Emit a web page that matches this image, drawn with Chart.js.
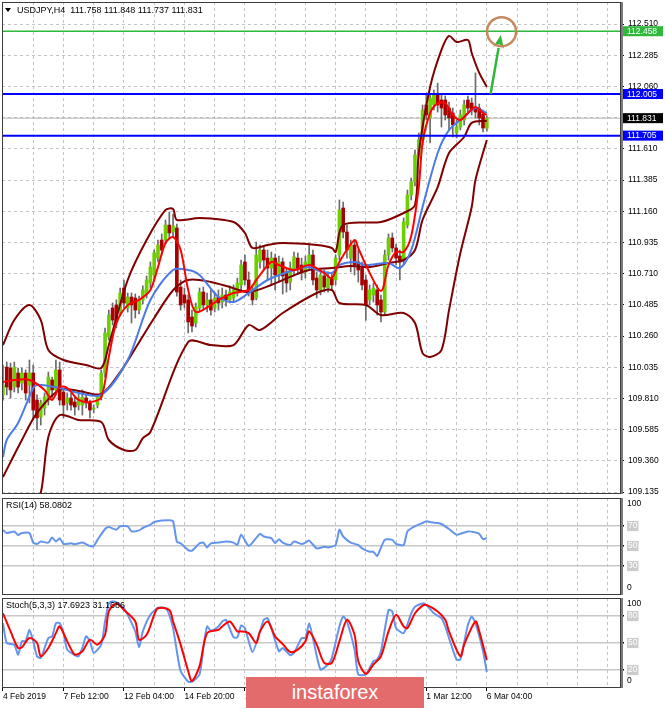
<!DOCTYPE html>
<html>
<head>
<meta charset="utf-8">
<script src="https://cdn.jsdelivr.net/npm/chart.js@4.4.1/dist/chart.umd.min.js"></script>
<style>
  html, body { margin: 0; padding: 0; background: #fff; }
  #wrap { position: relative; width: 665px; height: 708px; overflow: hidden; background: #fff; }
  canvas { position: absolute; left: 0; }
  #main { top: 0; }
  #rsi { top: 496px; }
  #stoch { top: 597px; }
  #wm { position: absolute; left: 246px; top: 677px; width: 178px; height: 31px; background: #e36b6b;
        color: #fff; font: 20px "Liberation Sans", Arial, sans-serif; text-align: center; line-height: 30px; }
</style>
</head>
<body>
<div id="wrap">
  <canvas id="main" width="665" height="496"></canvas>
  <canvas id="rsi" width="665" height="101"></canvas>
  <canvas id="stoch" width="665" height="111"></canvas>
  <div id="wm">instaforex</div>
</div>
<script>
// USDJPY H4, 4 Feb 2019 20:00 .. 6 Mar 2019 04:00, one entry per bar
const opens = [109.835,110.036,110.029,109.892,109.993,109.921,109.993,109.907,109.993,109.798,
  109.676,109.741,109.798,109.943,109.871,110.015,109.856,109.777,109.813,109.784,
  109.762,109.762,109.813,109.777,109.734,109.762,109.820,109.993,110.253,110.462,
  110.484,110.433,110.606,110.462,110.541,110.534,110.447,110.520,110.563,110.642,
  110.700,110.822,110.952,110.952,111.060,111.010,111.039,110.613,110.556,110.520,
  110.397,110.354,110.462,110.577,110.484,110.520,110.462,110.541,110.505,110.556,
  110.520,110.534,110.570,110.628,110.794,110.664,110.592,110.534,110.794,110.880,
  110.822,110.750,110.822,110.707,110.794,110.722,110.649,110.736,110.822,110.772,
  110.722,110.772,110.844,110.678,110.592,110.693,110.606,110.678,110.664,110.844,
  111.183,111.010,110.822,110.916,110.794,110.750,110.664,110.520,110.556,110.592,
  110.520,110.433,110.844,110.967,110.895,110.837,110.808,111.060,111.277,111.371,
  111.565,111.673,111.926,111.832,111.926,111.998,111.962,111.962,111.904,111.868,
  111.724,111.767,111.818,111.962,111.940,111.904,111.904,111.861,111.758];
const highs = [110.051,110.072,110.065,110.072,110.029,110.029,110.015,110.087,110.051,109.835,
  109.798,109.849,110.000,109.964,110.087,110.072,109.885,109.849,109.849,109.820,
  109.842,109.871,109.835,109.798,109.762,109.835,110.015,110.318,110.447,110.498,
  110.520,110.606,110.664,110.570,110.570,110.563,110.548,110.621,110.693,110.794,
  110.880,110.952,110.996,111.097,111.154,111.140,111.068,110.664,110.606,110.556,
  110.447,110.498,110.606,110.613,110.570,110.592,110.577,110.592,110.606,110.592,
  110.621,110.628,110.678,110.808,110.844,110.722,110.628,110.938,110.916,110.909,
  110.880,110.866,110.851,110.837,110.822,110.750,110.794,110.866,110.859,110.822,
  110.837,110.916,110.880,110.722,110.736,110.736,110.722,110.707,110.844,111.241,
  111.226,111.060,110.952,110.952,110.880,110.794,110.700,110.628,110.642,110.628,
  110.556,110.880,110.996,111.003,110.923,110.880,111.111,111.313,111.399,111.601,
  111.724,111.926,112.012,111.998,112.034,112.084,111.998,111.991,111.947,111.904,
  111.818,111.890,111.962,111.991,111.976,112.157,111.933,111.890,111.848];
const lows = [109.798,109.835,109.813,109.856,109.849,109.871,109.798,109.777,109.654,109.582,
  109.618,109.690,109.762,109.813,109.835,109.762,109.669,109.726,109.726,109.690,
  109.726,109.690,109.741,109.669,109.705,109.741,109.798,109.964,110.231,110.339,
  110.318,110.404,110.462,110.433,110.354,110.390,110.419,110.491,110.534,110.606,
  110.664,110.794,110.844,110.923,110.967,110.981,110.548,110.447,110.462,110.282,
  110.289,110.325,110.433,110.447,110.433,110.411,110.433,110.447,110.462,110.476,
  110.498,110.505,110.548,110.592,110.628,110.548,110.484,110.520,110.750,110.736,
  110.664,110.628,110.592,110.649,110.563,110.577,110.592,110.693,110.707,110.664,
  110.678,110.736,110.628,110.534,110.556,110.577,110.577,110.592,110.628,110.808,
  110.967,110.822,110.722,110.700,110.649,110.592,110.375,110.484,110.505,110.411,
  110.361,110.411,110.808,110.866,110.772,110.664,110.772,111.039,111.241,111.342,
  111.544,111.637,111.818,111.652,111.890,111.875,111.767,111.818,111.746,111.695,
  111.688,111.746,111.782,111.875,111.854,111.832,111.782,111.731,111.737];
const closes = [109.907,109.892,109.871,110.036,109.892,109.993,109.849,109.993,109.726,109.669,
  109.777,109.820,109.964,109.871,110.015,109.798,109.762,109.813,109.762,109.748,
  109.813,109.820,109.777,109.726,109.741,109.820,109.993,110.282,110.411,110.375,
  110.361,110.570,110.498,110.541,110.484,110.447,110.520,110.592,110.664,110.758,
  110.859,110.916,110.880,111.060,111.003,111.053,110.577,110.484,110.498,110.361,
  110.332,110.469,110.577,110.484,110.520,110.447,110.534,110.498,110.556,110.520,
  110.577,110.592,110.642,110.772,110.664,110.592,110.520,110.844,110.880,110.808,
  110.750,110.822,110.700,110.794,110.693,110.642,110.750,110.830,110.750,110.722,
  110.794,110.844,110.664,110.592,110.700,110.613,110.678,110.628,110.822,111.169,
  111.010,110.880,110.916,110.772,110.736,110.628,110.484,110.592,110.606,110.484,
  110.433,110.844,110.967,110.895,110.822,110.794,111.082,111.277,111.371,111.565,
  111.673,111.890,111.854,111.976,111.998,111.926,111.904,111.854,111.832,111.782,
  111.767,111.854,111.926,111.904,111.890,111.875,111.832,111.760,111.831];

// indicator lines as [bar, value]
const redMa = [[0,109.929],[3,109.943],[7,109.943],[11,109.871],[13,109.799],[15,109.892],[17,109.885],
  [20,109.799],[23,109.784],[26,109.820],[28,110.109],[30,110.354],[33,110.483],[36,110.520],[39,110.592],
  [41,110.757],[43,110.931],[45,110.974],[47,110.880],[49,110.592],[51,110.433],[55,110.483],[57,110.520],
  [61,110.570],[65,110.592],[67,110.664],[71,110.794],[73,110.772],[77,110.736],[81,110.772],[85,110.714],
  [87,110.678],[89,110.794],[93,110.952],[94,110.894],[96,110.772],[100,110.585],[102,110.772],[104,110.866],
  [106,110.866],[108,110.981],[110,111.335],[111,111.652],[113,111.868],[115,111.940],[117,111.940],
  [119,111.854],[121,111.818],[123,111.868],[125,111.912],[127,111.868],[128,111.854]];
const blueMa = [[0,109.387],[1,109.510],[4,109.633],[8,109.885],[9,109.907],[12,109.900],[15,109.885],
  [20,109.849],[26,109.835],[33,110.087],[39,110.520],[45,110.736],[49,110.736],[52,110.700],[57,110.541],
  [61,110.505],[65,110.570],[70,110.664],[77,110.736],[81,110.757],[83,110.736],[87,110.714],[89,110.772],
  [93,110.794],[96,110.772],[102,110.786],[105,110.750],[108,110.880],[111,111.190],[115,111.580],
  [118,111.745],[122,111.839],[125,111.904],[128,111.868]];
const bbMid = [[0,109.243],[5,109.510],[9,109.705],[15,109.871],[20,109.864],[26,109.842],[31,110.000],
  [35,110.170],[40,110.390],[45,110.590],[49,110.664],[55,110.650],[60,110.613],[65,110.577],[71,110.628],
  [76,110.686],[81,110.736],[87,110.750],[92,110.765],[97,110.757],[102,110.786],[106,110.808],[109,110.880],
  [111,111.097],[115,111.334],[118,111.580],[122,111.695],[124,111.797],[128,111.812]];
const bbUp = [[0,110.195],[3,110.375],[7,110.483],[10,110.375],[12,110.159],[16,110.087],[22,110.051],
  [26,110.029],[28,110.195],[33,110.664],[38,110.952],[43,111.169],[45,111.176],[46,111.097],[52,111.111],
  [61,111.082],[64,111.003],[66,110.895],[70,110.916],[74,110.930],[83,110.916],[87,110.895],[88,110.866],
  [90,111.061],[100,111.082],[106,111.147],[109,111.205],[110,111.580],[113,112.056],[116,112.323],
  [118,112.424],[120,112.380],[123,112.395],[124,112.301],[126,112.157],[128,112.056]];
const bbLow = [[0,108.300],[5,108.700],[10,109.128],[12,109.532],[15,109.690],[20,109.654],[26,109.640],
  [28,109.510],[32,109.438],[35,109.438],[37,109.524],[39,109.568],[49,110.217],[55,110.195],[61,110.195],
  [65,110.339],[68,110.303],[74,110.426],[83,110.570],[87,110.592],[89,110.498],[96,110.484],[100,110.411],
  [106,110.426],[109,110.354],[111,110.137],[113,110.109],[116,110.159],[118,110.447],[121,110.858],
  [124,111.190],[125,111.385],[128,111.673]];

const rsi = [[0,66],[1,62.9],[3,64.6],[4,61],[5,63],[7,63],[8,53.4],[9,52],[10,54.4],[12,53.4],[13,58.5],
  [14,54.4],[15,57.8],[16,52],[18,52.7],[19,51.7],[21,53.4],[23,50],[24,50],[25,56.1],[27,67],[28,69],
  [30,66.3],[31,69.7],[33,69.7],[34,64.6],[36,65.6],[37,68],[39,71.4],[40,74],[42,75.4],[44,75.8],
  [45,74.7],[46,54.4],[47,52.7],[49,45.9],[50,45.3],[52,52.7],[53,53.4],[54,48.6],[55,52.7],[57,53.4],
  [59,54.4],[61,53.4],[62,51],[63,61.2],[65,50],[66,53.4],[68,62.2],[69,59.5],[71,57.8],[72,52.7],
  [73,56.8],[74,53.4],[76,51],[77,54.4],[79,52],[80,53.4],[81,55.4],[83,47.6],[85,49.3],[86,48.6],
  [88,51],[89,66.3],[90,59.5],[92,53.4],[94,51],[95,47.6],[97,44.2],[98,44.2],[99,40.2],[101,56.1],
  [103,56.1],[104,52],[106,51],[107,64.6],[109,69.7],[111,73],[112,74.7],[113,74],[115,73],[116,72],
  [118,67],[120,61.2],[121,62.2],[123,64.6],[125,63.6],[126,62.2],[127,56.8],[128,58.08]];
const stochK = [[0,72],[1,50],[3,48],[4,37],[5,52],[6,52],[7,64.7],[8,52],[9,35.3],[10,33.5],[12,55.5],
  [13,57.4],[14,72],[15,72],[16,61],[17,42.6],[19,36.4],[20,35.3],[21,44.5],[22,57.4],[23,51.8],[24,39],
  [26,48.2],[27,73.9],[28,94],[29,96],[30,95.2],[32,88.6],[33,81.3],[35,62.9],[36,45.2],[37,62.9],
  [39,81.3],[41,89.3],[43,88.6],[44,81.3],[45,66.5],[46,40.8],[47,18.8],[49,7],[50,7],[52,15],[53,44.5],
  [54,68.4],[55,63.6],[57,68.4],[58,73.9],[59,75.7],[61,56.3],[62,56.3],[63,69.5],[64,66.5],[66,40],
  [68,62.9],[69,75.7],[70,77.6],[71,66.5],[73,40.8],[74,44.5],[76,36.4],[77,39],[79,55.5],[80,55.5],
  [81,72],[82,55.5],[84,20.6],[86,26.1],[87,33.5],[89,68.4],[90,79.4],[91,73.9],[93,42.6],[94,15],
  [96,15],[98,29.8],[99,31.6],[100,40.8],[102,86.8],[103,84.9],[104,66.5],[106,61],[108,83],[109,90.4],
  [111,94],[112,92.3],[114,83],[116,77.6],[117,68.4],[118,55.5],[120,31.6],[121,31.6],[123,70.2],
  [124,79.4],[125,72],[127,40.8],[128,17.69]];
const stochD = [[0,83],[2,62.9],[4,44.5],[5,45.2],[7,55.5],[9,50],[10,35.3],[12,44.5],[14,61],[15,68.4],
  [17,51.8],[19,37.1],[21,40.8],[23,53.7],[25,48.2],[27,59.2],[28,85],[30,94],[32,86.8],[35,73.9],
  [36,53.7],[38,59.2],[40,81.3],[41,88.6],[44,86.8],[45,73.9],[47,48.2],[49,18.8],[50,7.7],[52,24.3],
  [54,61],[57,64.7],[58,68.4],[60,73.9],[62,62.9],[63,62.9],[65,61],[67,50],[68,62.9],[70,73.9],
  [72,57.4],[74,48.9],[76,40],[78,42.6],[80,51.8],[81,62.9],[83,48.2],[85,27.9],[87,27.9],[89,51.8],
  [91,75.7],[93,59.2],[94,29.8],[96,15.8],[98,26.1],[100,35.3],[102,62.9],[104,81.3],[106,68.4],
  [107,66.5],[109,83],[111,91.5],[112,92.3],[115,85],[117,75.7],[118,62.9],[121,35.3],[122,48.2],
  [125,73.9],[126,62.9],[128,31.17]];

const priceTicks = [109.135,109.360,109.585,109.810,110.035,110.260,110.485,110.710,110.935,
  111.160,111.385,111.610,111.835,112.060,112.285,112.510];
const dateLabels = ['4 Feb 2019','7 Feb 12:00','12 Feb 04:00','14 Feb 20:00','19 Feb 12:00',
  '22 Feb 04:00','26 Feb 20:00','1 Mar 12:00','6 Mar 04:00'];
const gridBars = [0,8,16,24,32,40,48,56,64,72,80,88,96,104,112,120,128,136,144,152,160];
const rsiLevels = [70,50,30];
const stochLevels = [80,50,20];

const targetLevel = 112.458;
const resistance = 112.005;
const support = 111.705;
const lastPrice = 111.831;
const arrowFrom = [129.0, 112.005];
const arrowTo = [131.7, 112.430];
const targetMark = [131.9, 112.455];

const header = 'USDJPY,H4  111.758 111.848 111.737 111.831';
const rsiTitle = 'RSI(14) 58.0802';
const stochTitle = 'Stoch(5,3,3) 17.6923 31.1686';

const FONT = '"Liberation Sans", Arial, sans-serif';
Chart.defaults.font.family = FONT;
Chart.defaults.font.size = 8.5;
Chart.defaults.color = '#000';

const xMin = -0.26, xMax = 163.5;
const gridColor = '#c4c4c4';
const pts = arr => arr.map(([x, y]) => ({ x, y }));
const lineDs = (arr, color, width, order, tension) => ({
  type: 'line', data: pts(arr), borderColor: color, borderWidth: width,
  pointRadius: 0, tension: tension, fill: false, order: order
});
const flatDs = (v, color, width, order) => ({
  type: 'line', data: [{ x: xMin, y: v }, { x: xMax, y: v }], borderColor: color,
  borderWidth: width, pointRadius: 0, fill: false, order: order
});

const xAxis = (showLabels) => ({
  type: 'linear', min: xMin, max: xMax, offset: false,
  afterBuildTicks: s => { s.ticks = gridBars.map(v => ({ value: v })); },
  afterFit: s => { s.height = showLabels ? 20 : 0; s.paddingLeft = 0; s.paddingRight = 0; },
  ticks: {
    display: showLabels, autoSkip: false, maxRotation: 0, minRotation: 0, align: 'start', padding: 1,
    callback: v => (v % 16 === 0 && v / 16 < dateLabels.length) ? dateLabels[v / 16] : ''
  },
  grid: {
    color: gridColor, offset: false, drawTicks: showLabels, tickLength: 3,
    tickColor: c => (c.tick && c.tick.value % 16 === 0 && c.tick.value <= 128) ? '#000' : 'rgba(0,0,0,0)'
  },
  border: { display: false, dash: [3, 3] }
});

// panel frame + right axis line
const framePlugin = {
  id: 'frame',
  afterDraw(chart) {
    const { ctx, chartArea: a } = chart;
    ctx.save();
    ctx.strokeStyle = '#3c3c3c';
    ctx.lineWidth = 1;
    ctx.strokeRect(a.left + 0.5, a.top + 0.5, a.right - a.left - 1, a.bottom - a.top - 1);
    ctx.strokeStyle = '#7c7c7c';
    ctx.lineWidth = 2;
    ctx.beginPath();
    ctx.moveTo(a.right + 1, a.top);
    ctx.lineTo(a.right + 1, a.bottom);
    ctx.stroke();
    ctx.restore();
  }
};

const mainDecor = {
  id: 'mainDecor',
  afterDatasetsDraw(chart) {
    const { ctx } = chart;
    const xs = chart.scales.x, ys = chart.scales.y;
    const x1 = xs.getPixelForValue(arrowFrom[0]), y1 = ys.getPixelForValue(arrowFrom[1]);
    const x2 = xs.getPixelForValue(arrowTo[0]), y2 = ys.getPixelForValue(arrowTo[1]);
    const ang = Math.atan2(y2 - y1, x2 - x1);
    const hl = 13, hw = 5.5;
    const bx = x2 - hl * Math.cos(ang), by = y2 - hl * Math.sin(ang);
    ctx.save();
    ctx.strokeStyle = '#2fb83a';
    ctx.fillStyle = '#2fb83a';
    ctx.lineWidth = 2.5;
    ctx.beginPath();
    ctx.moveTo(x1, y1);
    ctx.lineTo(bx, by);
    ctx.stroke();
    ctx.beginPath();
    ctx.moveTo(x2, y2);
    ctx.lineTo(bx + hw * Math.sin(ang), by - hw * Math.cos(ang));
    ctx.lineTo(x2 - (hl - 4) * Math.cos(ang), y2 - (hl - 4) * Math.sin(ang));
    ctx.lineTo(bx - hw * Math.sin(ang), by + hw * Math.cos(ang));
    ctx.closePath();
    ctx.fill();
    const cx = xs.getPixelForValue(targetMark[0]), cy = ys.getPixelForValue(targetMark[1]);
    ctx.strokeStyle = '#c58a5f';
    ctx.lineWidth = 2.5;
    ctx.beginPath();
    ctx.arc(cx, cy, 14.5, 0, Math.PI * 2);
    ctx.stroke();
    ctx.restore();
  },
  afterDraw(chart) {
    const { ctx, chartArea: a } = chart;
    const ys = chart.scales.y;
    ctx.save();
    ctx.font = '8.5px ' + FONT;
    ctx.textBaseline = 'middle';
    const boxes = [[targetLevel, '#2fb83a'], [resistance, '#0000ff'], [support, '#0000ff'], [lastPrice, '#000']];
    boxes.forEach(([v, col]) => {
      const y = ys.getPixelForValue(v);
      ctx.fillStyle = col;
      ctx.fillRect(a.right + 2, y - 5, 40, 10);
      ctx.fillStyle = '#fff';
      ctx.fillText(v.toFixed(3), a.right + 6, y + 0.5);
    });
    // header
    ctx.fillStyle = '#000';
    ctx.beginPath();
    ctx.moveTo(5, 8); ctx.lineTo(11, 8); ctx.lineTo(8, 12); ctx.closePath();
    ctx.fill();
    ctx.font = '9px ' + FONT;
    ctx.fillText(header, 17, 10.5);
    ctx.restore();
  }
};

const levelLabels = (title) => ({
  id: 'levelLabels',
  afterDraw(chart) {
    const { ctx, chartArea: a } = chart;
    ctx.save();
    ctx.font = '8.5px ' + FONT;
    ctx.textBaseline = 'middle';
    ctx.fillStyle = '#000';
    ctx.fillText('100', a.right + 6, a.top + 6);
    ctx.fillText('0', a.right + 6, a.bottom - 7);
    ctx.font = '9px ' + FONT;
    ctx.fillText(title, 6, a.top + 8);
    ctx.restore();
  }
});

// ---------- main price panel ----------
const bull = opens.map((o, i) => closes[i] >= o);
new Chart(document.getElementById('main'), {
  type: 'bar',
  data: {
    datasets: [
      flatDs(lastPrice, '#b4b4b4', 1, 20),
      {
        type: 'bar', data: lows.map((l, i) => ({ x: i, y: [l, highs[i]] })),
        backgroundColor: '#6a6a6a', barThickness: 1, grouped: false, order: 12
      },
      {
        type: 'bar', data: opens.map((o, i) => ({ x: i, y: [o, closes[i]] })),
        backgroundColor: bull.map(b => b ? '#6cd000' : '#a80000'),
        barThickness: 3, grouped: false, order: 11
      },
      lineDs(bbUp, '#800000', 2, 6, 0.3),
      lineDs(bbMid, '#800000', 2, 6, 0.3),
      lineDs(bbLow, '#800000', 2, 6, 0.3),
      lineDs(blueMa, '#4a7be6', 2, 5, 0.3),
      lineDs(redMa, '#ff0000', 2, 4, 0.3),
      flatDs(targetLevel, '#2fb83a', 1.5, 2),
      flatDs(resistance, '#0000ff', 2, 2),
      flatDs(support, '#0000ff', 2, 2)
    ]
  },
  options: {
    responsive: false, animation: false,
    layout: { padding: { left: 2, top: 2, right: 0, bottom: 2 } },
    plugins: { legend: { display: false }, tooltip: { enabled: false } },
    scales: {
      x: xAxis(false),
      y: {
        position: 'right', min: 109.1206, max: 112.6687,
        afterBuildTicks: s => { s.ticks = priceTicks.map(v => ({ value: v })); },
        afterFit: s => { s.width = 44; s.paddingTop = 0; s.paddingBottom = 0; },
        ticks: { padding: 4, callback: v => Math.abs(v - 111.835) < 1e-6 ? '' : v.toFixed(3) },
        grid: { color: gridColor, tickLength: 3, tickColor: '#000' },
        border: { display: false, dash: [3, 3] }
      }
    }
  },
  plugins: [framePlugin, mainDecor]
});

// ---------- RSI panel ----------
const levelAxis = (levels, min, max) => ({
  position: 'right', min: min, max: max,
  afterBuildTicks: s => { s.ticks = levels.map(v => ({ value: v })); },
  afterFit: s => { s.width = 44; s.paddingTop = 0; s.paddingBottom = 0; },
  ticks: { padding: 4, color: '#fff', showLabelBackdrop: true, backdropColor: '#cbcbcb',
           backdropPadding: { x: 1, y: 0 } },
  grid: { color: '#c8c8c8', lineWidth: 1.5, tickLength: 3, tickColor: '#000' },
  border: { display: false }
});

new Chart(document.getElementById('rsi'), {
  type: 'line',
  data: { datasets: [lineDs(rsi, '#6495ed', 2, 1, 0.2)] },
  options: {
    responsive: false, animation: false,
    layout: { padding: { left: 2, top: 2, right: 0, bottom: 2 } },
    plugins: { legend: { display: false }, tooltip: { enabled: false } },
    scales: { x: xAxis(false), y: levelAxis(rsiLevels, 1, 98) }
  },
  plugins: [framePlugin, levelLabels(rsiTitle)]
});

// ---------- Stochastic panel ----------
new Chart(document.getElementById('stoch'), {
  type: 'line',
  data: {
    datasets: [
      lineDs(stochK, '#6495ed', 2, 2, 0.2),
      lineDs(stochD, '#ff0000', 2, 1, 0.3)
    ]
  },
  options: {
    responsive: false, animation: false,
    layout: { padding: { left: 2, top: 1, right: 0, bottom: 0 } },
    plugins: { legend: { display: false }, tooltip: { enabled: false } },
    scales: { x: xAxis(true), y: levelAxis(stochLevels, 0, 100) }
  },
  plugins: [framePlugin, levelLabels(stochTitle)]
});
</script>
</body>
</html>
